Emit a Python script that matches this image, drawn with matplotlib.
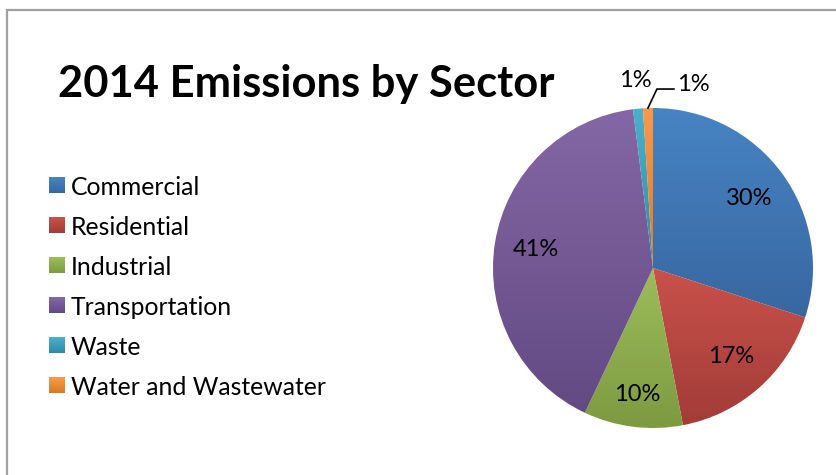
import numpy as np
import matplotlib.pyplot as plt
import matplotlib.patches as mpatches
from matplotlib.colors import LinearSegmentedColormap

plt.rcParams['font.family'] = ['Lato', 'DejaVu Sans']

# data
sectors = ['Commercial', 'Residential', 'Industrial', 'Transportation', 'Waste', 'Water and Wastewater']
shares = [30, 17, 10, 41, 1, 1]
# light (top) / dark (bottom) shade for each slice
light = ['#4784C4', '#C9514B', '#9DBD5B', '#8467A6', '#4DB0CA', '#F89A4A']
dark = ['#3867A0', '#A23C37', '#7D9A41', '#634A82', '#2F8BA4', '#D97A25']

W, H = 836, 475
fig = plt.figure(figsize=(W / 100, H / 100), dpi=100)
fig.patch.set_facecolor('white')

# grey chart frame (runs off the right / bottom edge)
fig.add_artist(mpatches.Rectangle((7 / W, -0.1), 1.2, (H - 10) / H + 0.1,
                                  transform=fig.transFigure, fill=False,
                                  edgecolor='#A0A0A0', lw=1.6))

fig.text(58 / W, (H - 97) / H, '2014 Emissions by Sector', fontsize=31.3,
         fontweight='bold', color='black', va='baseline', ha='left')

# pie axes: centre (653, 268), radius 160 px
ax = fig.add_axes([483 / W, (H - 438) / H, 340 / W, 340 / H])
wedges, texts, autotexts = ax.pie(shares, colors=light, startangle=90, counterclock=False,
                                  radius=1, autopct='%d%%', pctdistance=0.74,
                                  textprops=dict(fontsize=17, color='black'),
                                  wedgeprops=dict(linewidth=0))
ax.set_aspect('equal')
ax.axis('off')

# vertical gradient inside each slice
for w, c1, c2 in zip(wedges, light, dark):
    cmap = LinearSegmentedColormap.from_list('g', [c2, c1])
    bb = w.get_path().get_extents(w.get_patch_transform())
    grad = np.linspace(0, 1, 256).reshape(-1, 1)
    im = ax.imshow(grad, cmap=cmap, origin='lower', aspect='auto',
                   extent=[bb.x0, bb.x1, bb.y0, bb.y1], zorder=w.get_zorder())
    im.set_clip_path(w)
    w.set_facecolor('none')
ax.set_xlim(-1.0625, 1.0625)
ax.set_ylim(-1.0625, 1.0625)

# label placement
mids = [np.deg2rad((w.theta1 + w.theta2) / 2) for w in wedges]
autotexts[2].set_position((0.8 * np.cos(mids[2]), 0.8 * np.sin(mids[2])))
autotexts[4].set_position((1.18 * np.cos(mids[4]), 1.18 * np.sin(mids[4])))
# last slice: label with leader line
t = mids[5]
p0 = np.array([np.cos(t), np.sin(t)])
p1 = p0 + [0.056, 0.119]
p2 = p1 + [0.106, 0]
ax.plot([p0[0], p1[0], p2[0]], [p0[1], p1[1], p2[1]], color='black', lw=1.2, clip_on=False)
autotexts[5].set_position((p2[0] + 0.02, p2[1] + 0.03))
autotexts[5].set_ha('left')
for a in autotexts:
    a.set_clip_on(False)

# legend
for i, (name, c1, c2) in enumerate(zip(sectors, light, dark)):
    yc = 185 + 40 * i
    lax = fig.add_axes([49 / W, (H - yc - 8) / H, 16 / W, 16 / H])
    lax.imshow(np.linspace(0, 1, 32).reshape(-1, 1), origin='lower', aspect='auto',
               cmap=LinearSegmentedColormap.from_list('g', [c2, c1]))
    lax.axis('off')
    fig.text(71 / W, (H - yc - 2.5) / H, name, fontsize=17.8, va='center', ha='left')

fig.savefig('out.png', dpi=100)
